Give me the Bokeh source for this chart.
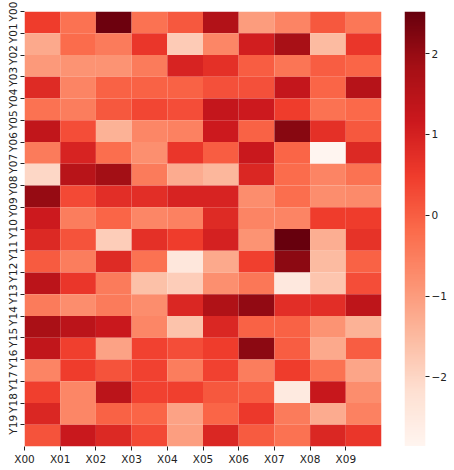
import numpy as np
from bokeh.plotting import figure
from bokeh.layouts import row
from bokeh.models import ColumnDataSource, LinearColorMapper, FixedTicker
from bokeh.palettes import Reds256
from bokeh.embed import file_html
from bokeh.resources import INLINE

x_labels = ["X%02d" % i for i in range(10)]
y_labels = ["Y%02d" % i for i in range(20)]

# values per row (Y00..Y19), columns X00..X09
Y00 = [0.50, -0.30, 2.45, -0.30, 0.10, 1.60, -1.00, -0.60, 0.10, -0.40]
Y01 = [-1.20, -0.20, -0.45, 0.60, -1.80, -0.65, 1.05, 1.80, -1.50, 0.60]
Y02 = [-0.95, -0.85, -0.85, -0.45, 0.95, 0.70, 0.00, -0.35, 0.00, -0.10]
Y03 = [0.80, -0.60, -0.05, -0.05, -0.05, 0.20, 0.20, 1.30, -0.10, 1.55]
Y04 = [-0.30, -0.50, 0.10, 0.35, 0.25, 1.30, 1.15, 0.50, -0.30, -0.15]
Y05 = [1.35, 0.25, -1.35, -0.65, -0.55, 1.15, -0.05, 2.15, 0.70, 0.10]
Y06 = [-0.45, 0.95, -0.25, -0.80, 0.60, 0.00, 1.20, -0.10, -2.86, 0.85]
Y07 = [-2.00, 1.50, 1.85, -0.45, -1.25, -1.45, 0.90, -0.20, -0.60, -0.30]
Y08 = [2.00, 0.30, 0.75, 0.75, 0.95, 0.95, -0.75, -0.25, -0.75, -0.70]
Y09 = [1.15, -0.50, -0.10, -0.65, -0.55, 0.80, -0.60, -0.60, 0.50, 0.50]
Y10 = [0.85, 0.15, -1.85, 0.70, 0.50, 1.00, -0.85, 2.52, -1.30, 0.65]
Y11 = [0.05, -0.50, 0.80, -0.30, -2.40, -1.20, 0.45, 2.10, -1.50, -0.05]
Y12 = [1.45, 0.60, -0.45, -1.60, -1.85, -0.80, -0.40, -2.45, -1.70, 0.25]
Y13 = [-0.45, -0.75, -0.45, -0.75, 0.90, 1.65, 2.05, 0.75, 0.75, 1.40]
Y14 = [1.75, 1.45, 1.20, -0.65, -1.65, 0.90, -0.05, -0.05, -0.85, -1.35]
Y15 = [1.35, 0.45, -1.10, 0.40, 0.25, 0.50, 2.10, 0.00, -1.20, 0.00]
Y16 = [-0.60, 0.50, 0.15, 0.40, -0.50, 0.40, -0.50, 0.50, -0.30, -1.15]
Y17 = [0.45, -0.65, 1.45, 0.40, 0.45, 0.10, 0.00, -2.50, 1.25, -0.75]
Y18 = [0.90, -0.65, -0.05, -0.10, -1.10, -0.10, 0.55, -0.45, -1.25, -0.55]
Y19 = [0.15, 1.20, 0.85, 0.30, -1.05, 0.90, 0.05, -0.30, 0.90, 0.60]

rows = [Y00, Y01, Y02, Y03, Y04, Y05, Y06, Y07, Y08, Y09,
        Y10, Y11, Y12, Y13, Y14, Y15, Y16, Y17, Y18, Y19]
cbar_ticks = [-2, -1, 0, 1, 2]

vals = np.array(rows)
nr, nc = vals.shape
ci, ri = np.meshgrid(np.arange(nc), np.arange(nr))
src = ColumnDataSource(dict(x=(ci + 0.5).ravel(), y=(ri + 0.5).ravel(), v=vals.ravel()))

low, high = float(vals.min()), float(vals.max())
mapper = LinearColorMapper(palette=list(reversed(Reds256)), low=low, high=high)

TXT = "#222222"
FS = "10.5px"

p = figure(frame_width=357, frame_height=435, x_range=(0, nc), y_range=(nr, 0),
           output_backend="svg", toolbar_location=None,
           min_border_top=11, min_border_left=24, min_border_right=23, min_border_bottom=0)
p.rect(x="x", y="y", width=1, height=1, source=src,
       fill_color={"field": "v", "transform": mapper}, line_color=None)

p.grid.visible = False
p.outline_line_color = None
for ax in (p.xaxis, p.yaxis):
    ax.axis_line_color = None
    ax.minor_tick_line_color = None
    ax.major_tick_in = 0
    ax.major_tick_out = 4
    ax.major_tick_line_color = TXT
    ax.major_label_text_font = "DejaVu Sans"
    ax.major_label_text_font_size = FS
    ax.major_label_text_color = TXT
    ax.major_label_standoff = 2
p.xaxis.ticker = FixedTicker(ticks=list(range(nc)))
p.xaxis.major_label_overrides = {i: s for i, s in enumerate(x_labels)}
p.yaxis.ticker = FixedTicker(ticks=list(range(nr)))
p.yaxis.major_label_overrides = {i: s for i, s in enumerate(y_labels)}
p.yaxis.major_label_orientation = "vertical"

# colour bar as its own small figure
cb = figure(frame_width=21, frame_height=435, x_range=(0, 1), y_range=(low, high),
            output_backend="svg", toolbar_location=None, y_axis_location="right",
            min_border_top=11, min_border_left=0, min_border_right=4, min_border_bottom=0)
grad = np.linspace(low, high, 256).reshape(-1, 1)
cb.image(image=[grad], x=0, y=low, dw=1, dh=high - low, color_mapper=mapper)
cb.xaxis.visible = False
cb.grid.visible = False
cb.outline_line_color = None
cb.yaxis.ticker = FixedTicker(ticks=cbar_ticks)
cb.yaxis.major_label_overrides = {t: str(t).replace("-", "\u2212") for t in cbar_ticks}
cb.yaxis.axis_line_color = None
cb.yaxis.minor_tick_line_color = None
cb.yaxis.major_tick_in = 0
cb.yaxis.major_tick_out = 4
cb.yaxis.major_tick_line_color = TXT
cb.yaxis.major_label_text_font = "DejaVu Sans"
cb.yaxis.major_label_text_font_size = FS
cb.yaxis.major_label_text_color = TXT
cb.yaxis.major_label_standoff = 2

layout = row(p, cb)
open("out.html", "w").write(file_html(layout, INLINE))
